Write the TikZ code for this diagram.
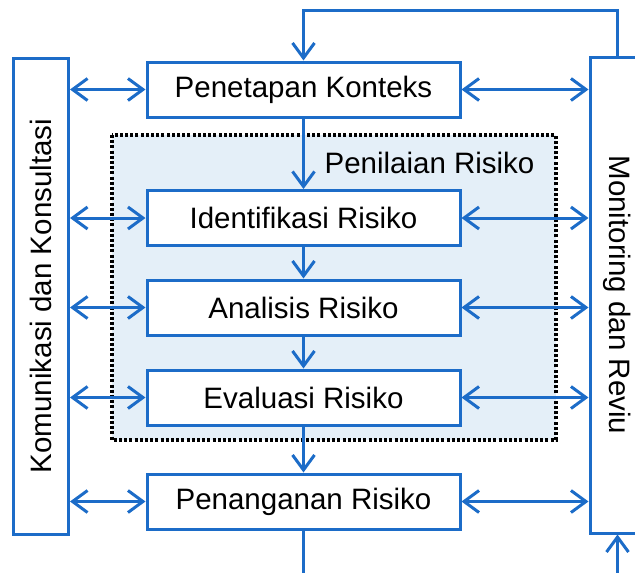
\documentclass[tikz,border=0pt]{standalone}
\usepackage{fontspec}
\setmainfont{Liberation Sans}
\usepackage{xcolor}
\usetikzlibrary{arrows.meta, positioning, calc}
\definecolor{flowblue}{RGB}{28,108,200}
\definecolor{zoneblue}{RGB}{228,239,248}

\begin{document}
\begin{tikzpicture}[x=1pt, y=-1pt,
    stage/.style={draw=flowblue, line width=3pt, fill=white, minimum width=313pt, minimum height=55pt, inner sep=0pt, font=\fontsize{29.5}{34}\selectfont},
    side/.style={draw=flowblue, line width=3pt, fill=white, minimum width=476pt, minimum height=55pt, inner sep=0pt, font=\fontsize{29.5}{34}\selectfont},
    zone/.style={draw=black, fill=zoneblue, line width=3.2pt, dash pattern=on 3pt off 2.2pt},
    flow/.style={draw=flowblue, line width=3pt},
    link/.style={flow, {Straight Barb[length=15pt,width=22pt]}-{Straight Barb[length=15pt,width=22pt]}},
    feed/.style={flow, -{Straight Barb[length=15pt,width=22pt]}}
]
    \useasboundingbox (0,0) rectangle (635,573);
    \clip (0,0) rectangle (635,573);

    \draw[zone] (112,135) rectangle (556,440);
    \node[anchor=east, font=\fontsize{29.5}{34}\selectfont] (penilaian) at (538,163) {Penilaian Risiko};

    \node[side, rotate=90]  (kom) at (41,296)    {Komunikasi dan Konsultasi};
    \node[side, rotate=-90] (mon) at (617.5,295) {Monitoring dan Reviu};

    \node[stage] (konteks)      at (303.5,89.5)  {Penetapan Konteks};
    \node[stage] (identifikasi) at (303.5,218)   {Identifikasi Risiko};
    \node[stage] (analisis)     at (303.5,307.5) {Analisis Risiko};
    \node[stage] (evaluasi)     at (303.5,397.5) {Evaluasi Risiko};
    \node[stage] (penanganan)   at (303.5,501.5) {Penanganan Risiko};

    \coordinate (exitL) at (303.5,590);
    \coordinate (exitR) at (617.5,590);

    \draw[link] (konteks.west -| kom.south)      -- (konteks.west);
    \draw[link] (identifikasi.west -| kom.south) -- (identifikasi.west);
    \draw[link] (analisis.west -| kom.south)     -- (analisis.west);
    \draw[link] (evaluasi.west -| kom.south)     -- (evaluasi.west);
    \draw[link] (penanganan.west -| kom.south)   -- (penanganan.west);

    \draw[link] (konteks.east)      -- (konteks.east -| mon.south);
    \draw[link] (identifikasi.east) -- (identifikasi.east -| mon.south);
    \draw[link] (analisis.east)     -- (analisis.east -| mon.south);
    \draw[link] (evaluasi.east)     -- (evaluasi.east -| mon.south);
    \draw[link] (penanganan.east)   -- (penanganan.east -| mon.south);

    \draw[feed] (konteks)      -- (identifikasi);
    \draw[feed] (identifikasi) -- (analisis);
    \draw[feed] (analisis)     -- (evaluasi);
    \draw[feed] (evaluasi)     -- (penanganan);

    \draw[feed] (mon.west) -- ++(0,-45) -| (konteks.north);
    \draw[flow] (penanganan) -- (exitL);
    \draw[feed] (exitR) -- (mon.east);
\end{tikzpicture}
\end{document}
